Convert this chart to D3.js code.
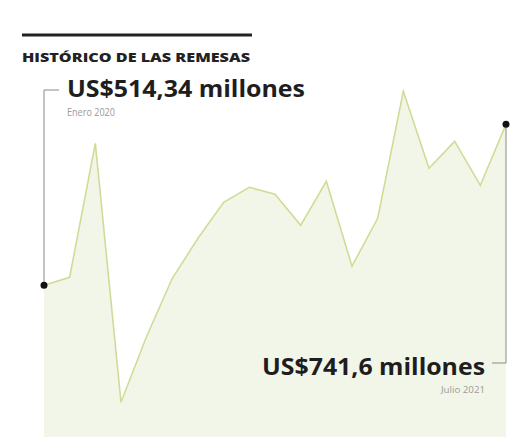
<!DOCTYPE html>
<html>
<head>
<meta charset="utf-8">
<script src="https://cdn.jsdelivr.net/npm/d3@7"></script>
<style>
	body { margin: 0; background: #fff; }
	text { font-family: "Open Sans", "DejaVu Sans", sans-serif; }
</style>
</head>
<body>
<svg></svg>
<script>
const size = { w: 530, h: 442 };

// remesas mensuales, millones de US$ (ene 2020 - jul 2021)
const months = ["2020-01", "2020-02", "2020-03", "2020-04", "2020-05", "2020-06", "2020-07",
	"2020-08", "2020-09", "2020-10", "2020-11", "2020-12", "2021-01", "2021-02",
	"2021-03", "2021-04", "2021-05", "2021-06", "2021-07"];
const remesas = [514.34, 525.6, 714.8, 349.2, 442.3, 524.2, 580.7, 631.5, 652.7, 642.8,
	599.0, 661.1, 541.2, 608.9, 788.2, 679.5, 717.6, 655.5, 741.6];
const title = "HISTÓRICO DE LAS REMESAS";
const firstLabel = "US$514,34 millones";
const firstDate = "Enero 2020";
const lastLabel = "US$741,6 millones";
const lastDate = "Julio 2021";

const data = months.map((m, i) => ({ month: m, value: remesas[i] }));

const svg = d3.select("svg").attr("width", size.w).attr("height", size.h);
const g = svg.append("g");

const xScale = d3.scalePoint().domain(months).range([44, 506]);
const yScale = d3.scaleLinear().domain([300, 800]).range([437, 83]);

// area + line
const area = d3.area()
	.x((d) => xScale(d.month))
	.y0(yScale(300))
	.y1((d) => yScale(d.value));
const line = d3.line()
	.x((d) => xScale(d.month))
	.y((d) => yScale(d.value));

g.append("path").datum(data).attr("d", area).attr("fill", "#f2f6e8");
g.append("path").datum(data).attr("d", line)
	.attr("fill", "none")
	.attr("stroke", "#d0dc96")
	.attr("stroke-width", 1.6)
	.attr("stroke-linejoin", "miter");

// header
g.append("line")
	.attr("x1", 22).attr("x2", 252)
	.attr("y1", 35).attr("y2", 35)
	.attr("stroke", "#222").attr("stroke-width", 3);
g.append("text")
	.attr("x", 22).attr("y", 62)
	.attr("font-size", 11.5).attr("font-weight", 800)
	.attr("fill", "#222")
	.attr("textLength", 228).attr("lengthAdjust", "spacingAndGlyphs")
	.text(title);

// first point annotation
const first = data[0];
const last = data[data.length - 1];
const x0 = xScale(first.month);
const x1 = xScale(last.month);

g.append("path")
	.attr("d", `M${x0 + 15},90 H${x0} V${yScale(first.value)}`)
	.attr("fill", "none").attr("stroke", "#888").attr("stroke-width", 1);
g.append("text")
	.attr("x", 67).attr("y", 97)
	.attr("font-size", 24).attr("font-weight", 700).attr("fill", "#1e1e1e")
	.attr("textLength", 238).attr("lengthAdjust", "spacingAndGlyphs")
	.text(firstLabel);
g.append("text")
	.attr("x", 67).attr("y", 116)
	.attr("font-size", 10).attr("fill", "#9a9a9a")
	.attr("textLength", 48).attr("lengthAdjust", "spacingAndGlyphs")
	.text(firstDate);

// last point annotation
g.append("path")
	.attr("d", `M${x1},${yScale(last.value)} V363 H${x1 - 14}`)
	.attr("fill", "none").attr("stroke", "#888").attr("stroke-width", 1);
g.append("text")
	.attr("x", 485).attr("y", 375)
	.attr("text-anchor", "end")
	.attr("font-size", 24).attr("font-weight", 700).attr("fill", "#1e1e1e")
	.attr("textLength", 223).attr("lengthAdjust", "spacingAndGlyphs")
	.text(lastLabel);
g.append("text")
	.attr("x", 485).attr("y", 393)
	.attr("text-anchor", "end")
	.attr("font-size", 9.5).attr("fill", "#9a9a9a")
	.attr("textLength", 44).attr("lengthAdjust", "spacingAndGlyphs")
	.text(lastDate);

// end dots
g.selectAll("circle.end")
	.data([first, last])
	.join("circle")
	.attr("class", "end")
	.attr("cx", (d) => xScale(d.month))
	.attr("cy", (d) => yScale(d.value))
	.attr("r", 3.5)
	.attr("fill", "#111");
</script>
</body>
</html>
